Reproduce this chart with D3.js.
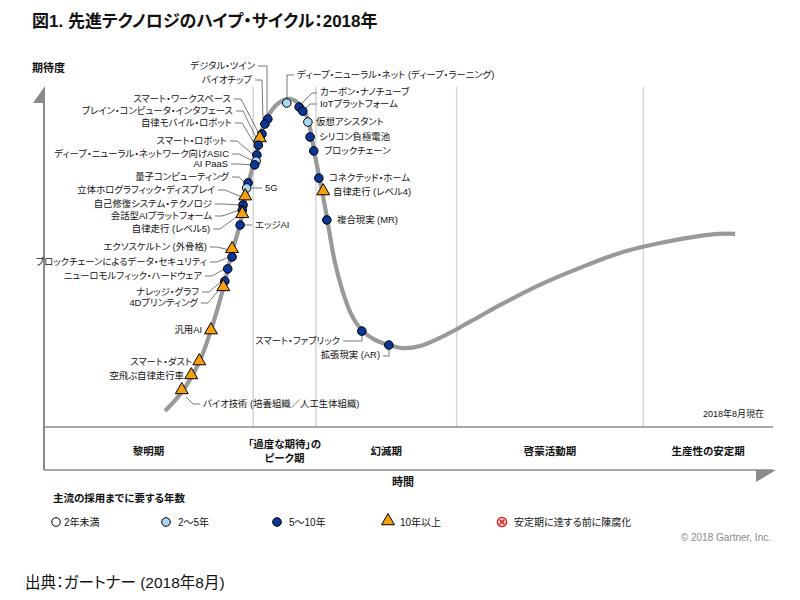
<!DOCTYPE html>
<html>
<head>
<meta charset="utf-8">
<script src="https://cdn.jsdelivr.net/npm/d3@7"></script>
<style>
body { margin:0; background:#fff; }
text { font-family:"Liberation Sans","Noto Sans CJK JP",sans-serif; font-feature-settings:"palt"; fill:#111; }
</style>
</head>
<body>
<script>

var width = 800, height = 600;

// hype curve, time (0-100) vs expectations (0-100)
var curveT = [16.6,18.9,21.3,22.9,24.6,25.8,26.9,27.7,28.5,29.4,30.0,31.0,32.2,33.7,35.0,35.8,36.4,36.8,37.3,37.9,38.5,39.1,39.9,41.0,42.2,43.6,45.4,47.3,49.2,51.6,54.3,58.4,62.6,68.0,73.5,79.0,84.5,90.0,92.5,94.8];
var curveE = [4.7,10.3,19.1,28.5,40.9,51.5,59.7,68.2,75.6,82.9,87.9,92.4,95.3,96.5,95.0,92.6,88.8,84.4,78.5,72.1,65.3,57.9,48.5,39.7,32.9,28.5,25.6,24.1,23.2,23.8,26.2,30.9,35.9,41.8,46.8,51.2,54.1,56.2,56.8,56.8];

// technologies: a = 2-5 years, b = 5-10 years, c = more than 10 years
var techNames = ["デジタル・ツイン","バイオチップ","スマート・ワークスペース","ブレイン・コンピュータ・インタフェース","自律モバイル・ロボット","スマート・ロボット","ディープ・ニューラル・ネットワーク向けASIC","AI PaaS","量子コンピューティング","5G","立体ホログラフィック・ディスプレイ","自己修復システム・テクノロジ","会話型AIプラットフォーム","自律走行 (レベル5)","エッジAI","エクソスケルトン (外骨格)","ブロックチェーンによるデータ・セキュリティ","ニューロモルフィック・ハードウェア","ナレッジ・グラフ","4Dプリンティング","汎用AI","スマート・ダスト","空飛ぶ自律走行車","バイオ技術 (培養組織／人工生体組織)","ディープ・ニューラル・ネット (ディープ・ラーニング)","カーボン・ナノチューブ","IoTプラットフォーム","仮想アシスタント","シリコン負極電池","ブロックチェーン","コネクテッド・ホーム","自律走行 (レベル4)","複合現実 (MR)","スマート・ファブリック","拡張現実 (AR)"];
var techT = [30.7,30.3,29.9,29.6,29.4,29.2,29.1,28.9,28.0,27.8,27.6,27.3,27.2,27.2,26.9,25.8,25.8,25.2,24.8,24.6,22.9,21.3,20.2,18.9,33.3,35.0,35.5,36.2,36.5,37.0,37.7,38.3,38.8,43.6,47.3];
var techE = [90.6,89.1,86.2,84.7,82.9,80.0,78.2,77.1,71.8,70.3,67.6,65.3,63.8,62.4,59.4,52.1,50.0,46.5,42.9,40.9,28.2,19.1,15.0,10.6,95.3,94.1,92.9,89.7,85.3,81.2,73.2,69.1,60.9,28.2,24.1];
var techYears = ["b","b","b","c","b","b","a","b","b","a","c","b","b","c","b","c","b","b","b","c","c","c","c","c","a","b","b","a","b","b","b","c","b","b","b"];

var phaseNames = [["黎明期"],["「過度な期待」の","ピーク期"],["幻滅期"],["啓蒙活動期"],["生産性の安定期"]];
var phaseEnds = [28.7,37.3,56.6,82.2,100];

var legendKeys = ["w","a","b","c","x"];
var legendLabels = ["2年未満","2〜5年","5〜10年","10年以上","安定期に達する前に陳腐化"];

// label placement: [x, y, anchor, leader]  leader: "auto", null or list of points
var labelLayout = [
  [255,66,"end",[[258,66],[267,66],[267,115]]],
  [252,80,"end",[[255,80],[262,80],[263,120]]],
  [231,99,"end","auto"],
  [233,111,"end","auto"],
  [232,123,"end","auto"],
  [227,141,"end","auto"],
  [229,154,"end","auto"],
  [228,164,"end","auto"],
  [229,177,"end","auto"],
  [265,188,"start",[[252,188],[262,188]]],
  [215,190,"end","auto"],
  [212,204,"end","auto"],
  [212,216,"end","auto"],
  [210,229,"end","auto"],
  [255,225,"start",[[245,225],[252,225]]],
  [207,247,"end","auto"],
  [207,262,"end","auto"],
  [202,276,"end","auto"],
  [199,292,"end","auto"],
  [198,303,"end","auto"],
  [202,330,"end",null],
  [192,362,"end",null],
  [184,376,"end",null],
  [203,404,"start",[[186,397],[193,404],[200,404]]],
  [297,75,"start",[[287,99],[287,75],[294,75]]],
  [320,92,"start",[[302,103],[312,93],[317,93]]],
  [320,104,"start",[[306,108],[310,104],[317,104]]],
  [316,122,"start",null],
  [319,137,"start",null],
  [324,151,"start",null],
  [329,178,"start",null],
  [333,192,"start",null],
  [337,220,"start",null],
  [340,341,"end",[[343,341],[362,341],[362,335]]],
  [380,355,"end",[[383,356],[389,356],[389,350]]]
];

var colors = {w:"#ffffff", a:"#a9d8f2", b:"#0b3596", c:"#f6a10b"};

var svg = d3.select("body").append("svg")
    .attr("width", width)
    .attr("height", height);

var x = d3.scaleLinear().domain([0,100]).range([44,773]);
var y = d3.scaleLinear().domain([0,100]).range([427,87]);

// title
svg.append("text").attr("x",32).attr("y",27)
  .style("font-size","17px").style("font-weight","bold")
  .text("図1. 先進テクノロジのハイプ・サイクル：2018年");

svg.append("text").attr("x",32).attr("y",72)
  .style("font-size","11px").style("font-weight","bold")
  .text("期待度");

// phase dividers
svg.selectAll(".div").data(phaseEnds.slice(0,4)).enter().append("line")
  .attr("x1",function(d){return x(d);}).attr("x2",function(d){return x(d);})
  .attr("y1",y(100)).attr("y2",y(0))
  .style("stroke","#d6d6d6").style("stroke-width",1.5);

// axes box
svg.append("line").attr("x1",x(0)).attr("x2",x(0)).attr("y1",100).attr("y2",470)
  .style("stroke","#8a8a8a").style("stroke-width",2);
svg.append("path").attr("d","M33,103 L45,86 L45,103 Z").style("fill","#8a8a8a");
svg.append("line").attr("x1",x(0)).attr("x2",x(100)).attr("y1",y(0)).attr("y2",y(0))
  .style("stroke","#8a8a8a").style("stroke-width",1.5);
svg.append("line").attr("x1",x(0)).attr("x2",x(100)).attr("y1",470).attr("y2",470)
  .style("stroke","#8a8a8a").style("stroke-width",1.5);
svg.append("path").attr("d","M756,470 L776,470 L756,482 Z").style("fill","#8a8a8a");

// phase names
var starts = [0].concat(phaseEnds.slice(0,4));
phaseNames.forEach(function(lines,i){
  var cx = (x(starts[i]) + x(phaseEnds[i]))/2;
  var y0 = lines.length == 1 ? 451 : 444;
  lines.forEach(function(s,j){
    svg.append("text").attr("x",cx).attr("y",y0+j*14).attr("dy","0.35em")
      .attr("text-anchor","middle")
      .style("font-size","10.5px").style("font-weight","bold").text(s);
  });
});

svg.append("text").attr("x",403).attr("y",482).attr("dy","0.35em")
  .attr("text-anchor","middle")
  .style("font-size","11px").style("font-weight","bold").text("時間");

svg.append("text").attr("x",764).attr("y",414).attr("dy","0.35em")
  .attr("text-anchor","end").style("font-size","9px").text("2018年8月現在");

// curve
var line = d3.line()
  .x(function(d){return x(d[0]);})
  .y(function(d){return y(d[1]);})
  .curve(d3.curveCatmullRom.alpha(0.5));
svg.append("path").datum(d3.zip(curveT, curveE))
  .attr("d", line)
  .style("fill","none").style("stroke","#999").style("stroke-width",4.2);

// leaders and labels
var tri = d3.symbol().type(d3.symbolTriangle).size(72);
techNames.forEach(function(name,i){
  var L = labelLayout[i];
  var mx = x(techT[i]), my = y(techE[i]);
  var pts = null;
  if (L[3] == "auto") pts = [[L[0]+3,L[1]],[L[0]+10,L[1]],[mx-3,my]];
  else if (L[3]) pts = L[3];
  if (pts) {
    svg.append("path").attr("d", d3.line()(pts))
      .style("fill","none").style("stroke","#555").style("stroke-width",0.8);
  }
  svg.append("text").attr("x",L[0]).attr("y",L[1]).attr("dy","0.35em")
    .attr("text-anchor",L[2]).style("font-size","9.4px").text(name);
});

// markers
techNames.forEach(function(name,i){
  var mx = x(techT[i]), my = y(techE[i]);
  if (techYears[i] == "c") {
    svg.append("path").attr("d",tri).attr("transform","translate("+mx+","+(my-1)+")")
      .style("fill",colors.c).style("stroke","#000").style("stroke-width",1);
  } else {
    svg.append("circle").attr("cx",mx).attr("cy",my).attr("r",4.3)
      .style("fill",colors[techYears[i]]).style("stroke","#000").style("stroke-width",1);
  }
});

// legend
svg.append("text").attr("x",53).attr("y",498).attr("dy","0.35em")
  .style("font-size","10.5px").style("font-weight","bold").text("主流の採用までに要する年数");

var legendX = [56,166,277,388,502];
legendKeys.forEach(function(k,i){
  var lx = legendX[i], ly = 522;
  if (k == "c") {
    svg.append("path").attr("d",tri).attr("transform","translate("+lx+","+(ly-1)+")")
      .style("fill",colors.c).style("stroke","#000").style("stroke-width",1);
  } else if (k == "x") {
    svg.append("circle").attr("cx",lx).attr("cy",ly).attr("r",4.5)
      .style("fill","#fff").style("stroke","#e0201c").style("stroke-width",1.6);
    svg.append("path").attr("d","M"+(lx-2.4)+","+(ly-2.4)+"L"+(lx+2.4)+","+(ly+2.4)+"M"+(lx+2.4)+","+(ly-2.4)+"L"+(lx-2.4)+","+(ly+2.4))
      .style("stroke","#e0201c").style("stroke-width",1.6);
  } else {
    svg.append("circle").attr("cx",lx).attr("cy",ly).attr("r",4.3)
      .style("fill",colors[k]).style("stroke","#000").style("stroke-width",1);
  }
  svg.append("text").attr("x",lx + (k=="w" ? 8 : 12)).attr("y",ly).attr("dy","0.35em")
    .style("font-size","10px").text(legendLabels[i]);
});

svg.append("text").attr("x",771).attr("y",537).attr("dy","0.35em")
  .attr("text-anchor","end").style("font-size","10px").style("fill","#888")
  .text("© 2018 Gartner, Inc.");

svg.append("text").attr("x",25).attr("y",583).attr("dy","0.35em")
  .style("font-size","15.5px").text("出典：ガートナー (2018年8月)");

</script>
</body>
</html>
